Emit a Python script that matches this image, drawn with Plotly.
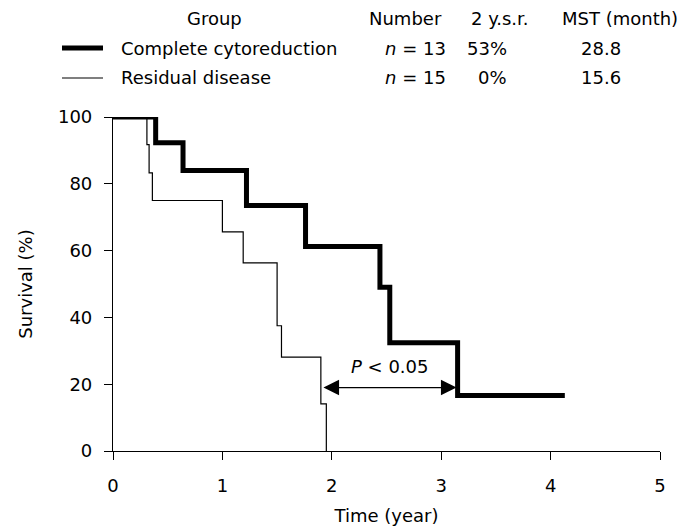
import plotly.graph_objects as go

# Kaplan-Meier step data
cc_time = [0, 0.39, 0.64, 1.22, 1.76, 2.44, 2.53, 3.15, 4.13]
cc_surv = [100, 92.3, 84.0, 73.5, 61.2, 49.0, 32.4, 16.6, 16.6]
rd_time = [0, 0.31, 0.33, 0.36, 1.0, 1.19, 1.50, 1.54, 1.90, 1.95]
rd_surv = [100, 91.7, 83.3, 75.0, 65.6, 56.3, 37.5, 28.1, 14.1, 0]

x_ticks = [0, 1, 2, 3, 4, 5]
y_ticks = [0, 20, 40, 60, 80, 100]

header = ["Group", "Number", "2 y.s.r.", "MST (month)"]
groups = ["Complete cytoreduction", "Residual disease"]
numbers = ["<i>n</i> = 13", "<i>n</i> = 15"]
ysr = ["53%", "0%"]
mst = ["28.8", "15.6"]

arrow_x = [1.91, 3.14]
arrow_y = 19
p_text = "<i>P</i> < 0.05"

OFF = 8  # page body margin
W, H = 691 - OFF, 528 - OFF
L, R, T, B = 113 - OFF, 660 - OFF, 117 - OFF, 451 - OFF


def px(x):
    return (x - OFF - L) / (R - L)


def py(y):
    return (B - (y - OFF)) / (B - T)


FONT = "DejaVu Sans, Liberation Sans, Arial, sans-serif"
FS = 18

fig = go.Figure()
fig.add_trace(go.Scatter(x=cc_time, y=cc_surv, mode="lines", line_shape="hv",
                         line=dict(color="black", width=5), cliponaxis=False,
                         hoverinfo="skip"))
fig.add_trace(go.Scatter(x=rd_time, y=rd_surv, mode="lines", line_shape="hv",
                         line=dict(color="black", width=1.2), cliponaxis=False,
                         hoverinfo="skip"))

ann = []
for txt, cx in zip(header, [214, 405, 500, 620]):
    ann.append(dict(text=txt, x=px(cx), y=py(18), xref="paper", yref="paper",
                    xanchor="center", yanchor="middle", showarrow=False))
rows_y = [48, 78]
widths = [5, 1.2]
shapes = []
for i in range(2):
    yy = py(rows_y[i])
    shapes.append(dict(type="line", xref="paper", yref="paper", x0=px(62), x1=px(103),
                       y0=yy, y1=yy, line=dict(color="black", width=widths[i])))
    ann.append(dict(text=groups[i], x=px(119), y=yy, xref="paper", yref="paper",
                    xanchor="left", yanchor="middle", showarrow=False))
    ann.append(dict(text=numbers[i], x=px(383), y=yy, xref="paper", yref="paper",
                    xanchor="left", yanchor="middle", showarrow=False))
    ann.append(dict(text=ysr[i], x=px(509), y=yy, xref="paper", yref="paper",
                    xanchor="right", yanchor="middle", showarrow=False))
    ann.append(dict(text=mst[i], x=px(601), y=yy, xref="paper", yref="paper",
                    xanchor="center", yanchor="middle", showarrow=False))

ann.append(dict(x=arrow_x[1], y=arrow_y, ax=arrow_x[0], ay=arrow_y,
                xref="x", yref="y", axref="x", ayref="y", text="",
                showarrow=True, arrowhead=2, startarrowhead=2, arrowside="end+start",
                arrowwidth=1.2, arrowsize=2.6, startarrowsize=2.6, arrowcolor="black"))
ann.append(dict(text=p_text, x=sum(arrow_x) / 2, y=arrow_y + 6.2, xref="x", yref="y",
                xanchor="center", yanchor="middle", showarrow=False))

fig.update_layout(
    width=W, height=H,
    margin=dict(l=L, r=W - R, t=T, b=H - B, pad=0),
    paper_bgcolor="white", plot_bgcolor="white",
    font=dict(family=FONT, size=FS, color="black"),
    showlegend=False,
    annotations=ann, shapes=shapes,
    xaxis=dict(range=[0, 5], tickvals=x_ticks, ticks="outside", ticklen=8, tickwidth=1.2,
               tickcolor="black", showline=True, linecolor="black", linewidth=1.2,
               showgrid=False, zeroline=False, ticklabelstandoff=10, automargin=False,
               title=dict(text="Time (year)", standoff=14, font=dict(size=FS))),
    yaxis=dict(range=[0, 100], tickvals=y_ticks, ticks="outside", ticklen=8, tickwidth=1.2,
               tickcolor="black", showline=True, linecolor="black", linewidth=1.2,
               showgrid=False, zeroline=False, ticklabelstandoff=8, automargin=False,
               title=dict(text="Survival (%)", standoff=20, font=dict(size=FS))),
)

fig.write_html("out.html")
